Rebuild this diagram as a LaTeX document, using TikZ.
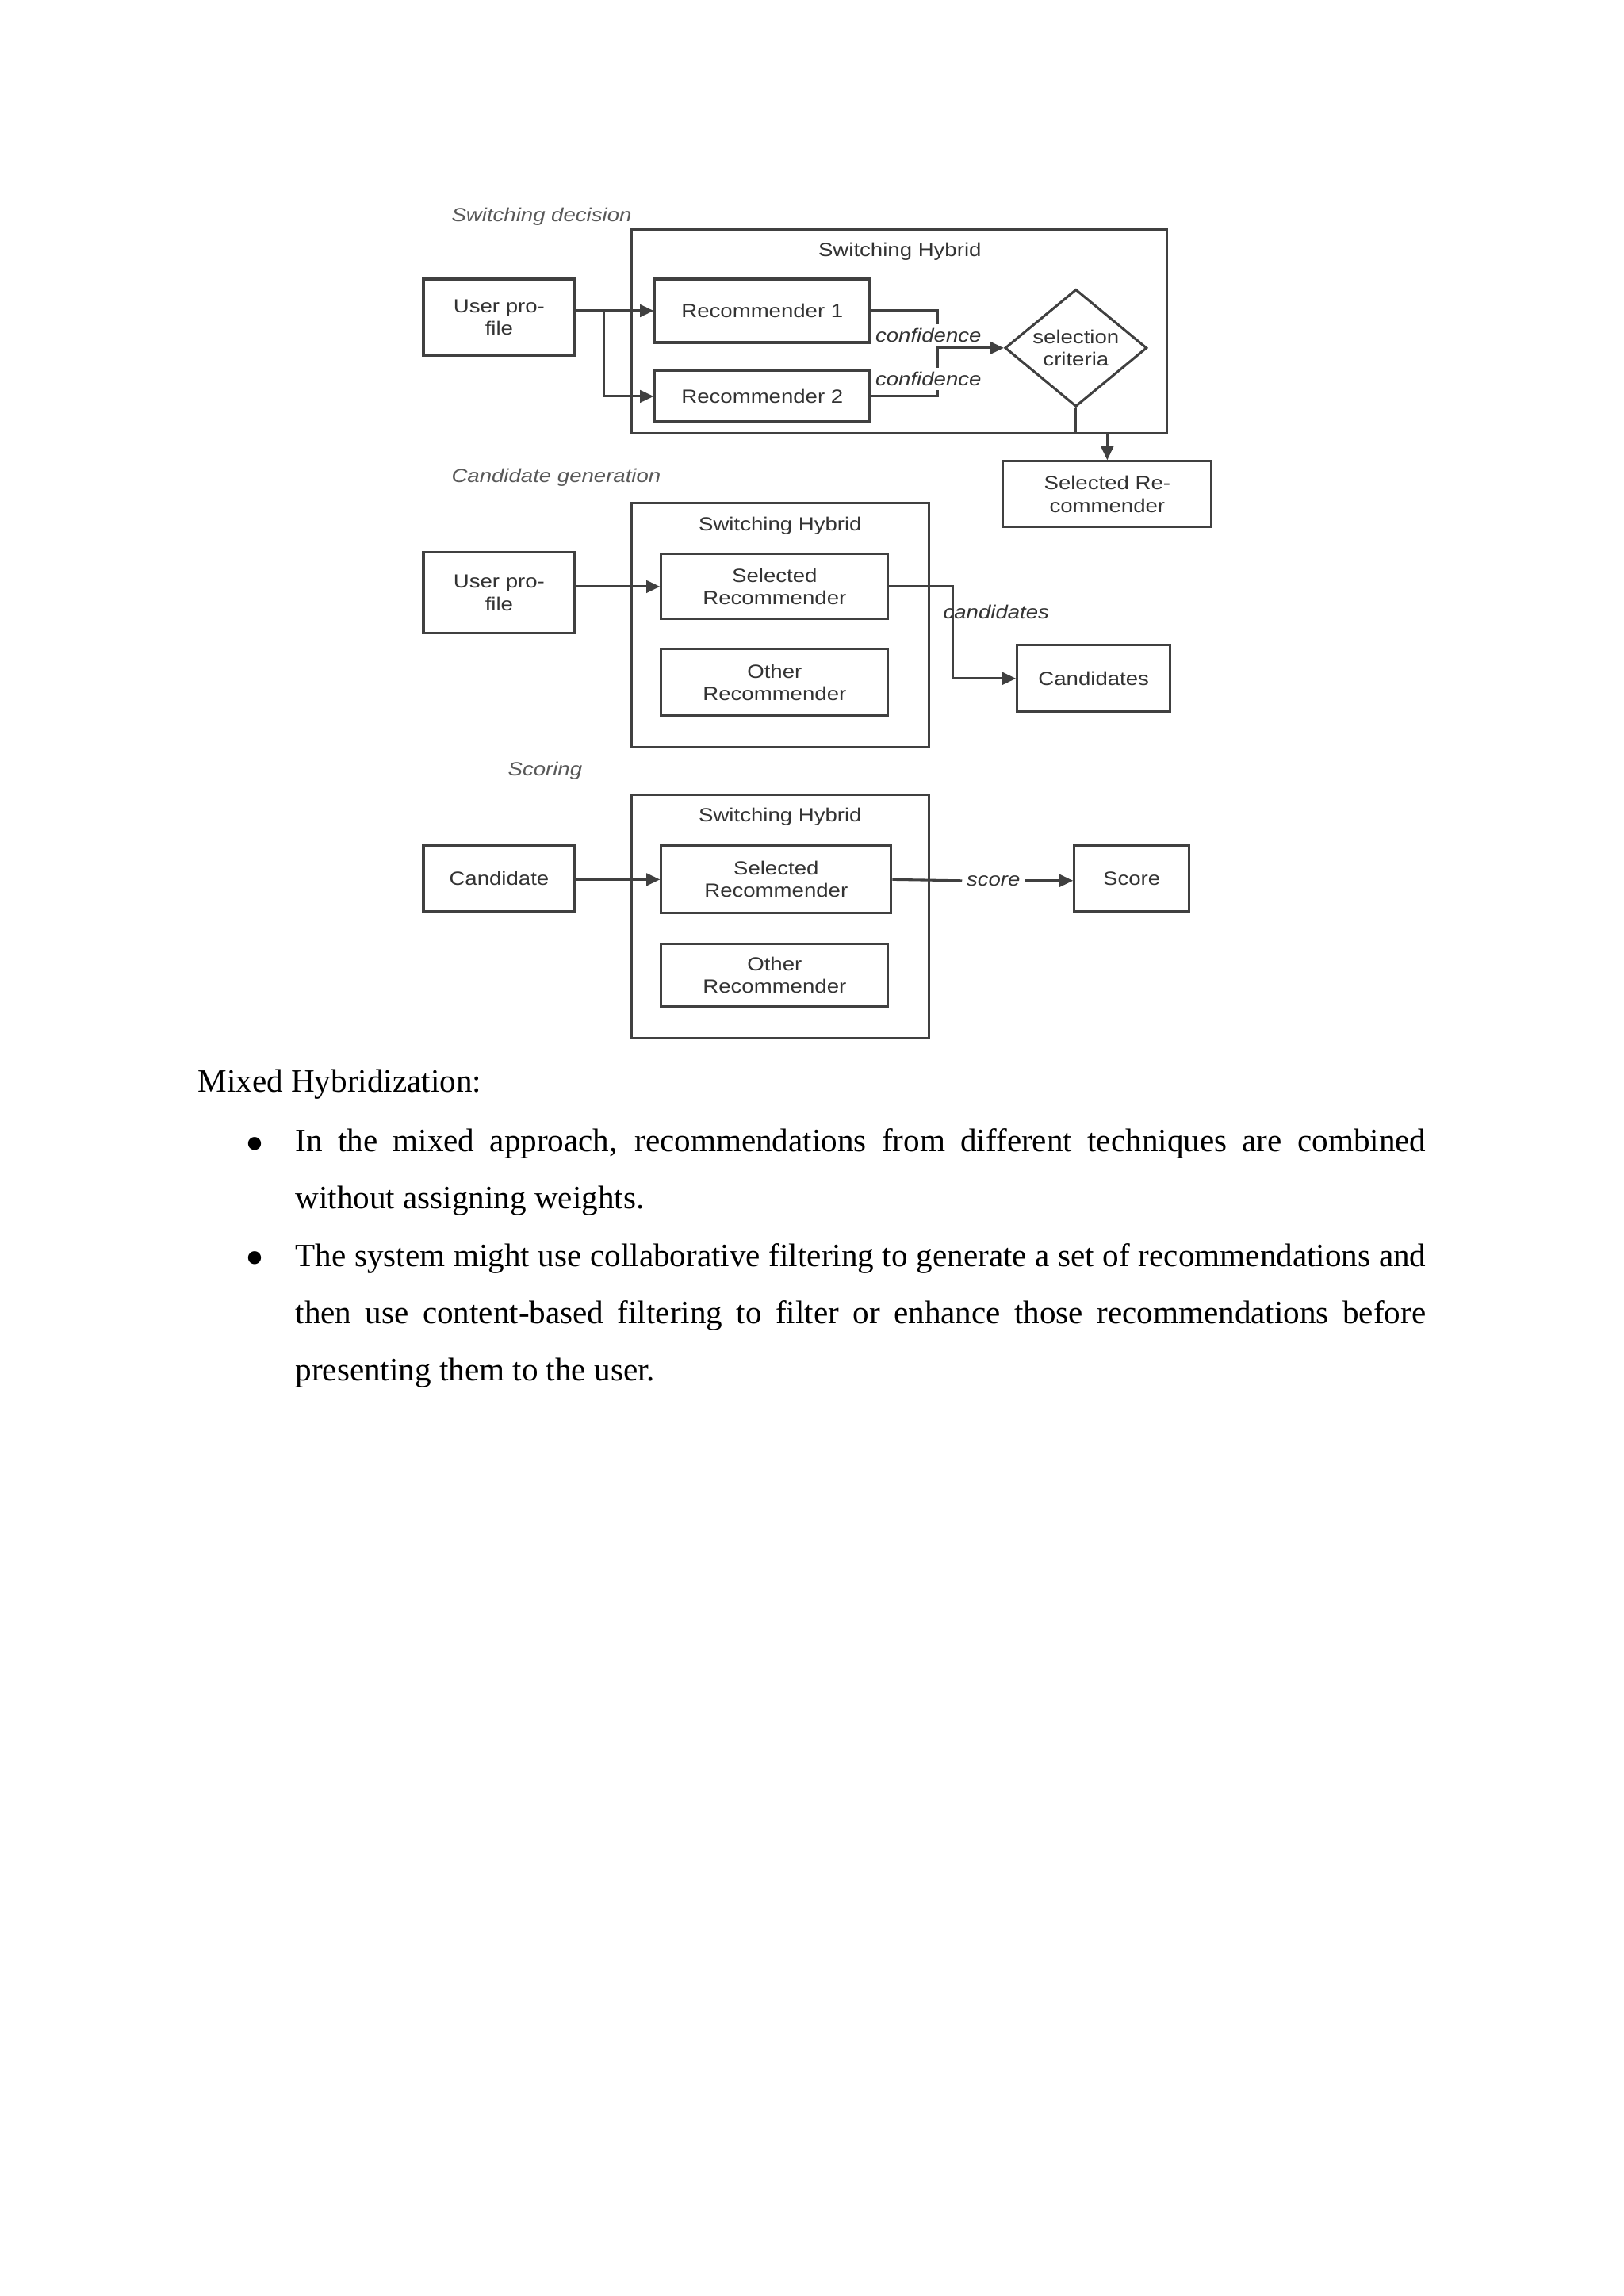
\documentclass[tikz,border=0pt]{standalone}
\usepackage{fontspec}
\setmainfont{Liberation Serif}
\newfontfamily\diagfont[FakeStretch=1.15]{Liberation Sans}
\newcommand{\bodyfont}{\fontsize{12}{21}\selectfont\tolerance=10000\relax}
\usetikzlibrary{shapes}
\usetikzlibrary{arrows.meta}

\begin{document}
\begin{tikzpicture}
	\tikzstyle{box}=[rectangle,draw=black!75,line width=0.9pt,align=center,text=black!80,inner sep=0pt,font=\diagfont\fontsize{7}{8.2}\selectfont]
	\tikzstyle{decide}=[diamond,draw=black!75,line width=0.9pt,align=center,text=black!80,inner sep=0pt,aspect=1.21,minimum width=1.835cm,minimum height=1.518cm,font=\diagfont\fontsize{7}{8.2}\selectfont]
	\tikzstyle{title}=[text=black!80,font=\diagfont\fontsize{7}{8.2}\selectfont]
	\tikzstyle{phase}=[anchor=west,inner sep=0pt,text=black!65,font=\diagfont\itshape\fontsize{7}{8.2}\selectfont]
	\tikzstyle{tag}=[text=black!80,inner sep=1.5pt,font=\diagfont\itshape\fontsize{7}{8.2}\selectfont]
	\tikzstyle{wire}=[draw=black!75,line width=0.9pt]
	\tikzstyle{link}=[wire,-{Triangle[length=5pt,width=4.5pt]}]
	\tikzstyle{body}=[inner sep=0pt,font=\bodyfont]
	\tikzstyle{dot}=[inner sep=0pt,font=\fontsize{20}{20}\selectfont]

	\useasboundingbox (0,0) rectangle (21,-29.7);
	\fill[white] (0,0) rectangle (21,-29.7);

	% switching decision
	\node[phase] (swdec) at (5.834,-2.800) {Switching decision};
	\node[box,minimum width=6.921cm,minimum height=2.635cm] (hyb1) at (11.633,-4.291) {};
	\node[title] (hyb1t) at (11.638,-3.250) {Switching Hybrid};
	\node[box,minimum width=1.958cm,minimum height=0.984cm] (user1) at (6.455,-4.102) {User pro-\\file};
	\node[box,minimum width=2.779cm,minimum height=0.820cm] (rec1) at (9.859,-4.020) {Recommender 1};
	\node[box,minimum width=2.779cm,minimum height=0.656cm] (rec2) at (9.859,-5.127) {Recommender 2};
	\node[decide] (crit) at (13.915,-4.501) {selection\\criteria};
	\node[box,minimum width=2.697cm,minimum height=0.851cm] (selrec) at (14.320,-6.393) {Selected Re-\\commender};
	\coordinate (split) at (7.813,-4.020);
	\coordinate (join) at (12.130,-4.501);
	\coordinate (bend) at (14.320,-5.609);

	\draw[link] (user1.east |- rec1.west) -- (rec1.west);
	\draw[link] (split) |- (rec2.west);
	\draw[link] (rec1.east) -| (join) -- (crit.west);
	\draw[wire] (rec2.east) -| (join);
	\draw[link] (crit.south) |- (bend) -- (selrec.north);
	\node[tag,fill=white] (conf1) at (12.007,-4.337) {confidence};
	\node[tag,fill=white] (conf2) at (12.007,-4.901) {confidence};

	% candidate generation
	\node[phase] (cangen) at (5.834,-6.173) {Candidate generation};
	\node[box,minimum width=3.845cm,minimum height=3.158cm] (hyb2) at (10.095,-8.090) {};
	\node[title] (hyb2t) at (10.090,-6.798) {Switching Hybrid};
	\node[box,minimum width=1.958cm,minimum height=1.046cm] (user2) at (6.455,-7.670) {User pro-\\file};
	\node[box,minimum width=2.933cm,minimum height=0.841cm] (sel2) at (10.018,-7.588) {Selected\\Recommender};
	\node[box,minimum width=2.933cm,minimum height=0.861cm] (oth2) at (10.018,-8.829) {Other\\Recommender};
	\node[box,minimum width=1.979cm,minimum height=0.861cm] (cands) at (14.145,-8.777) {Candidates};
	\coordinate (drop) at (12.325,-8.777);

	\draw[link] (user2.east |- sel2.west) -- (sel2.west);
	\draw[link] (sel2.east) -| (drop) -- (cands.west);
	\node[tag,anchor=west] (candlab) at (12.14,-7.916) {candidates};

	% scoring
	\node[phase] (scoring) at (6.563,-9.967) {Scoring};
	\node[box,minimum width=3.845cm,minimum height=3.148cm] (hyb3) at (10.095,-11.859) {};
	\node[title] (hyb3t) at (10.090,-10.562) {Switching Hybrid};
	\node[box,minimum width=1.958cm,minimum height=0.851cm] (cand3) at (6.455,-11.366) {Candidate};
	\node[box,minimum width=2.974cm,minimum height=0.872cm] (sel3) at (10.038,-11.377) {Selected\\Recommender};
	\node[box,minimum width=2.933cm,minimum height=0.810cm] (oth3) at (10.018,-12.617) {Other\\Recommender};
	\node[tag] (scorelab) at (12.848,-11.392) {score};
	\node[box,minimum width=1.487cm,minimum height=0.851cm] (score) at (14.637,-11.366) {Score};

	\draw[link] (cand3.east |- sel3.west) -- (sel3.west);
	\draw[wire] (sel3.east) -- (scorelab.west);
	\draw[link] (scorelab.east) -- (scorelab.east -| score.west);

	% text below
	\node[body,anchor=base west] (mixed) at (2.553,-14.130) {Mixed Hybridization:};
	\node[dot] (dot1) at (3.302,-14.866) {\textbullet};
	\node[body,anchor=north west,text width=416pt,align=justify] (item1) at (3.814,-14.372)
		{\strut In the mixed approach, recommendations from different techniques are combined\linebreak without assigning weights.};
	\node[dot] (dot2) at (3.302,-16.352) {\textbullet};
	\node[body,anchor=north west,text width=416pt,align=justify] (item2) at (3.814,-15.858)
		{\strut The system might use collaborative filtering to generate a set of recommendations and\linebreak then use content-based filtering to filter or enhance those recommendations before\linebreak presenting them to the user.};
\end{tikzpicture}
\end{document}
